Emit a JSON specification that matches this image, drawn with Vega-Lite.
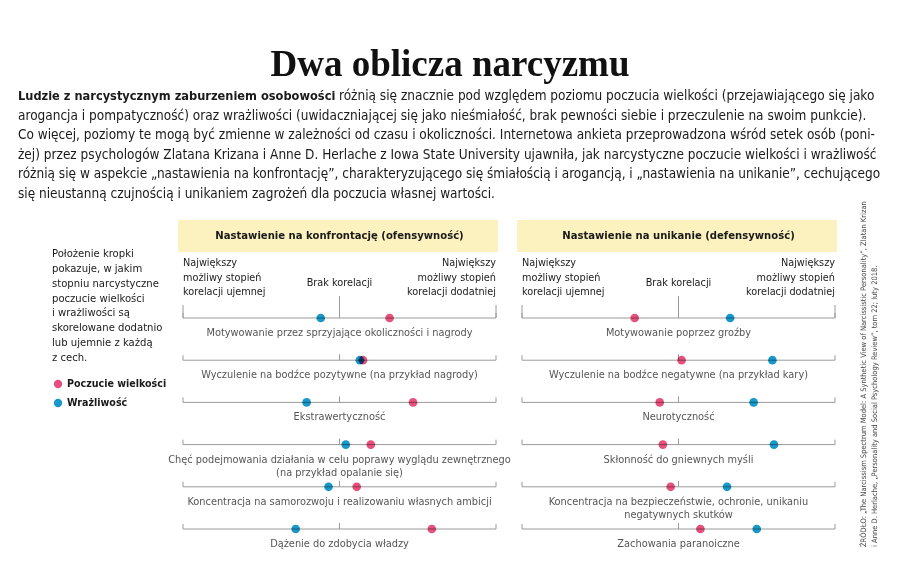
{
  "$schema": "https://vega.github.io/schema/vega-lite/v6.json",
  "padding": 0,
  "background": "white",
  "bounds": "flush",
  "spacing": 0,
  "config": {
    "view": {"stroke": null},
    "font": "DejaVu Sans Condensed, Roboto",
    "text": {"font": "DejaVu Sans Condensed, Roboto"}
  },
  "datasets": {
    "left": [
      {"row": 1, "label": "Motywowanie przez sprzyjające okoliczności i nagrody", "wielkosc": 0.32, "wrazliwosc": -0.12},
      {"row": 2, "label": "Wyczulenie na bodźce pozytywne (na przykład nagrody)", "wielkosc": 0.15, "wrazliwosc": 0.13},
      {"row": 3, "label": "Ekstrawertyczność", "wielkosc": 0.47, "wrazliwosc": -0.21},
      {"row": 4, "label": "Chęć podejmowania działania w celu poprawy wyglądu zewnętrznego\n(na przykład opalanie się)", "wielkosc": 0.20, "wrazliwosc": 0.04},
      {"row": 5, "label": "Koncentracja na samorozwoju i realizowaniu własnych ambicji", "wielkosc": 0.11, "wrazliwosc": -0.07},
      {"row": 6, "label": "Dążenie do zdobycia władzy", "wielkosc": 0.59, "wrazliwosc": -0.28}
    ],
    "right": [
      {"row": 1, "label": "Motywowanie poprzez groźby", "wielkosc": -0.28, "wrazliwosc": 0.33},
      {"row": 2, "label": "Wyczulenie na bodźce negatywne (na przykład kary)", "wielkosc": 0.02, "wrazliwosc": 0.60},
      {"row": 3, "label": "Neurotyczność", "wielkosc": -0.12, "wrazliwosc": 0.48},
      {"row": 4, "label": "Skłonność do gniewnych myśli", "wielkosc": -0.10, "wrazliwosc": 0.61},
      {"row": 5, "label": "Koncentracja na bezpieczeństwie, ochronie, unikaniu\nnegatywnych skutków", "wielkosc": -0.05, "wrazliwosc": 0.31},
      {"row": 6, "label": "Zachowania paranoiczne", "wielkosc": 0.14, "wrazliwosc": 0.50}
    ],
    "para": [
      {"line": 1, "part": "bold", "text": "Ludzie z narcystycznym zaburzeniem osobowości"},
      {"line": 1, "part": "rest", "text": "różnią się znacznie pod względem poziomu poczucia wielkości (przejawiającego się jako"},
      {"line": 2, "part": "normal", "text": "arogancja i pompatyczność) oraz wrażliwości (uwidaczniającej się jako nieśmiałość, brak pewności siebie i przeczulenie na swoim punkcie)."},
      {"line": 3, "part": "normal", "text": "Co więcej, poziomy te mogą być zmienne w zależności od czasu i okoliczności. Internetowa ankieta przeprowadzona wśród setek osób (poni-"},
      {"line": 4, "part": "normal", "text": "żej) przez psychologów Zlatana Krizana i Anne D. Herlache z Iowa State University ujawniła, jak narcystyczne poczucie wielkości i wrażliwość"},
      {"line": 5, "part": "normal", "text": "różnią się w aspekcie „nastawienia na konfrontację”, charakteryzującego się śmiałością i arogancją, i „nastawienia na unikanie”, cechującego"},
      {"line": 6, "part": "normal", "text": "się nieustanną czujnością i unikaniem zagrożeń dla poczucia własnej wartości."}
    ],
    "note": [
      {"i": 1, "t": "Położenie kropki"},
      {"i": 2, "t": "pokazuje, w jakim"},
      {"i": 3, "t": "stopniu narcystyczne"},
      {"i": 4, "t": "poczucie wielkości"},
      {"i": 5, "t": "i wrażliwości są"},
      {"i": 6, "t": "skorelowane dodatnio"},
      {"i": 7, "t": "lub ujemnie z każdą"},
      {"i": 8, "t": "z cech."}
    ],
    "keys": [
      {"j": 1, "cecha": "wielkosc", "label": "Poczucie wielkości"},
      {"j": 2, "cecha": "wrazliwosc", "label": "Wrażliwość"}
    ],
    "source": [
      {"line": 1, "t": "ŹRÓDŁO: „The Narcissism Spectrum Model: A Synthetic View of Narcissistic Personality”, Zlatan Krizan"},
      {"line": 2, "t": "i Anne D. Herlache, „Personality and Social Psychology Review”, tom 22; luty 2018."}
    ]
  },
  "vconcat": [
    {
      "width": 900,
      "height": 215,
      "layer": [
        {
          "data": {"values": [{"t": "Dwa oblicza narcyzmu"}]},
          "mark": {"type": "text", "font": "Liberation Serif", "fontWeight": "bold", "fontSize": 37, "align": "center", "baseline": "alphabetic", "color": "#111111"},
          "encoding": {"x": {"value": 450}, "y": {"value": 76}, "text": {"field": "t"}}
        },
        {
          "data": {"name": "para"},
          "transform": [{"filter": "datum.part == 'bold'"}],
          "mark": {"type": "text", "fontWeight": "bold", "fontSize": 12.7, "align": "left", "baseline": "middle", "color": "#1a1a1a"},
          "encoding": {
            "x": {"value": 18},
            "y": {"field": "line", "type": "quantitative", "scale": {"domain": [1, 6], "range": [96, 193.5]}, "axis": null},
            "text": {"field": "text"}
          }
        },
        {
          "data": {"name": "para"},
          "transform": [{"filter": "datum.part == 'rest'"}],
          "mark": {"type": "text", "fontSize": 13.5, "align": "left", "baseline": "middle", "color": "#1a1a1a"},
          "encoding": {
            "x": {"value": 339},
            "y": {"field": "line", "type": "quantitative", "scale": {"domain": [1, 6], "range": [96, 193.5]}, "axis": null},
            "text": {"field": "text"}
          }
        },
        {
          "data": {"name": "para"},
          "transform": [{"filter": "datum.part == 'normal'"}],
          "mark": {"type": "text", "fontSize": 13.5, "align": "left", "baseline": "middle", "color": "#1a1a1a"},
          "encoding": {
            "x": {"value": 18},
            "y": {"field": "line", "type": "quantitative", "scale": {"domain": [1, 6], "range": [96, 193.5]}, "axis": null},
            "text": {"field": "text"}
          }
        }
      ]
    },
    {
      "hconcat": [
        {
          "width": 157,
          "height": 364,
          "resolve": {"scale": {"y": "independent"}},
          "layer": [
            {
              "data": {"name": "note"},
              "mark": {"type": "text", "fontSize": 11.2, "align": "left", "baseline": "middle", "color": "#1a1a1a"},
              "encoding": {
                "x": {"value": 52},
                "y": {"field": "i", "type": "quantitative", "scale": {"domain": [1, 8], "range": [39, 143]}, "axis": null},
                "text": {"field": "t"}
              }
            },
            {
              "data": {"name": "keys"},
              "layer": [
                {
                  "mark": {"type": "circle", "size": 70, "opacity": 1},
                  "encoding": {
                    "x": {"value": 58},
                    "y": {"field": "j", "type": "quantitative", "scale": {"domain": [1, 2], "range": [169, 188]}, "axis": null},
                    "color": {"field": "cecha", "type": "nominal", "scale": {"domain": ["wielkosc", "wrazliwosc"], "range": ["#e6507c", "#1898c8"]}, "legend": null}
                  }
                },
                {
                  "mark": {"type": "text", "fontSize": 10.6, "fontWeight": "bold", "align": "left", "baseline": "middle", "color": "#1a1a1a"},
                  "encoding": {
                    "x": {"value": 67},
                    "y": {"field": "j", "type": "quantitative", "scale": {"domain": [1, 2], "range": [169, 188]}, "axis": null},
                    "text": {"field": "label"}
                  }
                }
              ]
            }
          ]
        },
        {
          "width": 313,
          "height": 364,
          "data": {"name": "left"},
          "layer": [
            {
              "data": {"values": [{}]},
              "mark": {"type": "rect", "fill": "#fbf2bf"},
              "encoding": {"x": {"value": -5}, "x2": {"value": 315}, "y": {"value": 5}, "y2": {"value": 37}}
            },
            {
              "data": {"values": [{"t": "Nastawienie na konfrontację (ofensywność)"}]},
              "mark": {"type": "text", "fontSize": 11.2, "fontWeight": "bold", "align": "center", "baseline": "middle", "color": "#1a1a1a"},
              "encoding": {"x": {"value": 156.5}, "y": {"value": 21}, "text": {"field": "t"}}
            },
            {
              "data": {"values": [{}]},
              "mark": {"type": "text", "text": ["Największy", "możliwy stopień", "korelacji ujemnej"], "fontSize": 10.8, "lineHeight": 14.5, "align": "left", "baseline": "top", "color": "#1a1a1a"},
              "encoding": {"x": {"value": 0}, "y": {"value": 42}}
            },
            {
              "data": {"values": [{}]},
              "mark": {"type": "text", "text": ["Największy", "możliwy stopień", "korelacji dodatniej"], "fontSize": 10.8, "lineHeight": 14.5, "align": "right", "baseline": "top", "color": "#1a1a1a"},
              "encoding": {"x": {"value": 313}, "y": {"value": 42}}
            },
            {
              "data": {"values": [{}]},
              "mark": {"type": "text", "text": "Brak korelacji", "fontSize": 10.8, "align": "center", "baseline": "middle", "color": "#1a1a1a"},
              "encoding": {"x": {"value": 156.5}, "y": {"value": 68}}
            },
            {
              "mark": {"type": "rule", "color": "#9a9a9a", "strokeWidth": 1},
              "encoding": {
                "x": {"datum": -1, "type": "quantitative", "scale": {"domain": [-1, 1]}, "axis": null},
                "x2": {"datum": 1},
                "y": {"field": "row", "type": "quantitative", "scale": {"domain": [1, 6], "range": [103, 314]}, "axis": null}
              }
            },
            {
              "mark": {"type": "rule", "color": "#9a9a9a", "strokeWidth": 1, "yOffset": -5},
              "encoding": {
                "x": {"datum": -1, "type": "quantitative", "scale": {"domain": [-1, 1]}, "axis": null},
                "y": {"field": "row", "type": "quantitative", "scale": {"domain": [1, 6], "range": [103, 314]}, "axis": null},
                "y2": {"field": "row"}
              }
            },
            {
              "mark": {"type": "rule", "color": "#9a9a9a", "strokeWidth": 1, "yOffset": -5},
              "encoding": {
                "x": {"datum": 1, "type": "quantitative", "scale": {"domain": [-1, 1]}, "axis": null},
                "y": {"field": "row", "type": "quantitative", "scale": {"domain": [1, 6], "range": [103, 314]}, "axis": null},
                "y2": {"field": "row"}
              }
            },
            {
              "mark": {"type": "rule", "color": "#9a9a9a", "strokeWidth": 1, "yOffset": -6},
              "encoding": {
                "x": {"datum": 0, "type": "quantitative", "scale": {"domain": [-1, 1]}, "axis": null},
                "y": {"field": "row", "type": "quantitative", "scale": {"domain": [1, 6], "range": [103, 314]}, "axis": null},
                "y2": {"field": "row"}
              }
            },
            {
              "transform": [{"filter": "datum.row == 1"}],
              "mark": {"type": "rule", "color": "#9a9a9a", "strokeWidth": 1, "yOffset": -22},
              "encoding": {
                "x": {"datum": 0, "type": "quantitative", "scale": {"domain": [-1, 1]}, "axis": null},
                "y": {"field": "row", "type": "quantitative", "scale": {"domain": [1, 6], "range": [103, 314]}, "axis": null},
                "y2": {"field": "row"}
              }
            },
            {
              "transform": [{"filter": "datum.row == 1"}],
              "mark": {"type": "rule", "color": "#9a9a9a", "strokeWidth": 1, "yOffset": -13},
              "encoding": {
                "x": {"datum": -1, "type": "quantitative", "scale": {"domain": [-1, 1]}, "axis": null},
                "y": {"field": "row", "type": "quantitative", "scale": {"domain": [1, 6], "range": [103, 314]}, "axis": null},
                "y2": {"field": "row"}
              }
            },
            {
              "transform": [{"filter": "datum.row == 1"}],
              "mark": {"type": "rule", "color": "#9a9a9a", "strokeWidth": 1, "yOffset": -13},
              "encoding": {
                "x": {"datum": 1, "type": "quantitative", "scale": {"domain": [-1, 1]}, "axis": null},
                "y": {"field": "row", "type": "quantitative", "scale": {"domain": [1, 6], "range": [103, 314]}, "axis": null},
                "y2": {"field": "row"}
              }
            },
            {
              "mark": {"type": "text", "fontSize": 10.9, "lineHeight": 13.5, "align": "center", "baseline": "top", "dy": 9, "color": "#555555", "lineBreak": "\n"},
              "encoding": {
                "x": {"datum": 0, "type": "quantitative", "scale": {"domain": [-1, 1]}, "axis": null},
                "y": {"field": "row", "type": "quantitative", "scale": {"domain": [1, 6], "range": [103, 314]}, "axis": null},
                "text": {"field": "label"}
              }
            },
            {
              "transform": [{"fold": ["wielkosc", "wrazliwosc"], "as": ["cecha", "r"]}],
              "mark": {"type": "circle", "size": 75, "opacity": 1, "blend": "multiply"},
              "encoding": {
                "x": {"field": "r", "type": "quantitative", "scale": {"domain": [-1, 1]}, "axis": null},
                "y": {"field": "row", "type": "quantitative", "scale": {"domain": [1, 6], "range": [103, 314]}, "axis": null},
                "color": {"field": "cecha", "type": "nominal", "scale": {"domain": ["wielkosc", "wrazliwosc"], "range": ["#e6507c", "#1898c8"]}, "legend": null}
              }
            }
          ]
        },
        {
          "width": 313,
          "height": 364,
          "data": {"name": "right"},
          "layer": [
            {
              "data": {"values": [{}]},
              "mark": {"type": "rect", "fill": "#fbf2bf"},
              "encoding": {"x": {"value": -5}, "x2": {"value": 315}, "y": {"value": 5}, "y2": {"value": 37}}
            },
            {
              "data": {"values": [{"t": "Nastawienie na unikanie (defensywność)"}]},
              "mark": {"type": "text", "fontSize": 11.2, "fontWeight": "bold", "align": "center", "baseline": "middle", "color": "#1a1a1a"},
              "encoding": {"x": {"value": 156.5}, "y": {"value": 21}, "text": {"field": "t"}}
            },
            {
              "data": {"values": [{}]},
              "mark": {"type": "text", "text": ["Największy", "możliwy stopień", "korelacji ujemnej"], "fontSize": 10.8, "lineHeight": 14.5, "align": "left", "baseline": "top", "color": "#1a1a1a"},
              "encoding": {"x": {"value": 0}, "y": {"value": 42}}
            },
            {
              "data": {"values": [{}]},
              "mark": {"type": "text", "text": ["Największy", "możliwy stopień", "korelacji dodatniej"], "fontSize": 10.8, "lineHeight": 14.5, "align": "right", "baseline": "top", "color": "#1a1a1a"},
              "encoding": {"x": {"value": 313}, "y": {"value": 42}}
            },
            {
              "data": {"values": [{}]},
              "mark": {"type": "text", "text": "Brak korelacji", "fontSize": 10.8, "align": "center", "baseline": "middle", "color": "#1a1a1a"},
              "encoding": {"x": {"value": 156.5}, "y": {"value": 68}}
            },
            {
              "mark": {"type": "rule", "color": "#9a9a9a", "strokeWidth": 1},
              "encoding": {
                "x": {"datum": -1, "type": "quantitative", "scale": {"domain": [-1, 1]}, "axis": null},
                "x2": {"datum": 1},
                "y": {"field": "row", "type": "quantitative", "scale": {"domain": [1, 6], "range": [103, 314]}, "axis": null}
              }
            },
            {
              "mark": {"type": "rule", "color": "#9a9a9a", "strokeWidth": 1, "yOffset": -5},
              "encoding": {
                "x": {"datum": -1, "type": "quantitative", "scale": {"domain": [-1, 1]}, "axis": null},
                "y": {"field": "row", "type": "quantitative", "scale": {"domain": [1, 6], "range": [103, 314]}, "axis": null},
                "y2": {"field": "row"}
              }
            },
            {
              "mark": {"type": "rule", "color": "#9a9a9a", "strokeWidth": 1, "yOffset": -5},
              "encoding": {
                "x": {"datum": 1, "type": "quantitative", "scale": {"domain": [-1, 1]}, "axis": null},
                "y": {"field": "row", "type": "quantitative", "scale": {"domain": [1, 6], "range": [103, 314]}, "axis": null},
                "y2": {"field": "row"}
              }
            },
            {
              "mark": {"type": "rule", "color": "#9a9a9a", "strokeWidth": 1, "yOffset": -6},
              "encoding": {
                "x": {"datum": 0, "type": "quantitative", "scale": {"domain": [-1, 1]}, "axis": null},
                "y": {"field": "row", "type": "quantitative", "scale": {"domain": [1, 6], "range": [103, 314]}, "axis": null},
                "y2": {"field": "row"}
              }
            },
            {
              "transform": [{"filter": "datum.row == 1"}],
              "mark": {"type": "rule", "color": "#9a9a9a", "strokeWidth": 1, "yOffset": -22},
              "encoding": {
                "x": {"datum": 0, "type": "quantitative", "scale": {"domain": [-1, 1]}, "axis": null},
                "y": {"field": "row", "type": "quantitative", "scale": {"domain": [1, 6], "range": [103, 314]}, "axis": null},
                "y2": {"field": "row"}
              }
            },
            {
              "transform": [{"filter": "datum.row == 1"}],
              "mark": {"type": "rule", "color": "#9a9a9a", "strokeWidth": 1, "yOffset": -13},
              "encoding": {
                "x": {"datum": -1, "type": "quantitative", "scale": {"domain": [-1, 1]}, "axis": null},
                "y": {"field": "row", "type": "quantitative", "scale": {"domain": [1, 6], "range": [103, 314]}, "axis": null},
                "y2": {"field": "row"}
              }
            },
            {
              "transform": [{"filter": "datum.row == 1"}],
              "mark": {"type": "rule", "color": "#9a9a9a", "strokeWidth": 1, "yOffset": -13},
              "encoding": {
                "x": {"datum": 1, "type": "quantitative", "scale": {"domain": [-1, 1]}, "axis": null},
                "y": {"field": "row", "type": "quantitative", "scale": {"domain": [1, 6], "range": [103, 314]}, "axis": null},
                "y2": {"field": "row"}
              }
            },
            {
              "mark": {"type": "text", "fontSize": 10.9, "lineHeight": 13.5, "align": "center", "baseline": "top", "dy": 9, "color": "#555555", "lineBreak": "\n"},
              "encoding": {
                "x": {"datum": 0, "type": "quantitative", "scale": {"domain": [-1, 1]}, "axis": null},
                "y": {"field": "row", "type": "quantitative", "scale": {"domain": [1, 6], "range": [103, 314]}, "axis": null},
                "text": {"field": "label"}
              }
            },
            {
              "transform": [{"fold": ["wielkosc", "wrazliwosc"], "as": ["cecha", "r"]}],
              "mark": {"type": "circle", "size": 75, "opacity": 1, "blend": "multiply"},
              "encoding": {
                "x": {"field": "r", "type": "quantitative", "scale": {"domain": [-1, 1]}, "axis": null},
                "y": {"field": "row", "type": "quantitative", "scale": {"domain": [1, 6], "range": [103, 314]}, "axis": null},
                "color": {"field": "cecha", "type": "nominal", "scale": {"domain": ["wielkosc", "wrazliwosc"], "range": ["#e6507c", "#1898c8"]}, "legend": null}
              }
            }
          ]
        },
        {
          "width": 39,
          "height": 364,
          "data": {"name": "source"},
          "mark": {"type": "text", "angle": 270, "fontSize": 7.5, "align": "left", "baseline": "middle", "color": "#444444"},
          "encoding": {
            "x": {"field": "line", "type": "quantitative", "scale": {"domain": [1, 2], "range": [3, 14]}, "axis": null},
            "y": {"value": 332},
            "text": {"field": "t"}
          }
        }
      ],
      "spacing": 26,
      "bounds": "flush"
    }
  ]
}
